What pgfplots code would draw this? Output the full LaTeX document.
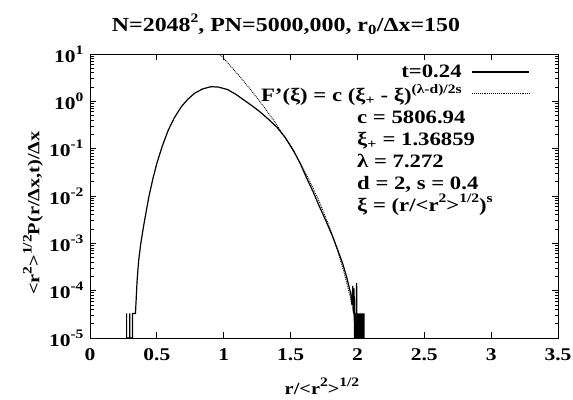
\documentclass[border=0pt]{standalone}
\usepackage{fontspec}
\setmainfont{Liberation Serif}[FakeStretch=1.2]
\usepackage{pgfplots}
\pgfplotsset{compat=1.18}
\newcommand{\sps}[1]{\raisebox{0.45em}{\fontsize{13}{13}\selectfont #1}}
\begin{document}
\begin{tikzpicture}
\begin{axis}[
 name=ax,
 scale only axis, width=468bp, height=284bp,
 xmin=0, xmax=3.5, ymin=1e-5, ymax=10,
 ymode=log,
 xtick={0,0.5,1,1.5,2,2.5,3,3.5},
 xticklabels={0,0.5,1,1.5,2,2.5,3,3.5},
 ytick={1e-5,1e-4,1e-3,1e-2,1e-1,1,10},
 yticklabels={10\sps{-5},10\sps{-4},10\sps{-3},10\sps{-2},10\sps{-1},10\sps{0},10\sps{1}},
 minor ytick={2e-5,3e-5,4e-5,5e-5,6e-5,7e-5,8e-5,9e-5,2e-4,3e-4,4e-4,5e-4,6e-4,7e-4,8e-4,9e-4,2e-3,3e-3,4e-3,5e-3,6e-3,7e-3,8e-3,9e-3,2e-2,3e-2,4e-2,5e-2,6e-2,7e-2,8e-2,9e-2,0.2,0.3,0.4,0.5,0.6,0.7,0.8,0.9,2,3,4,5,6,7,8,9},
 tick label style={font=\fontsize{18}{18}\selectfont\bfseries},
 xticklabel style={yshift=-7bp},
 yticklabel style={xshift=-3bp},
 tick align=inside,
 major tick length=6bp, minor tick length=3.5bp,
 axis line style={line width=1bp},
 every tick/.style={black, line width=0.8bp},
 title={\bfseries N=2048\sps{2}, PN=5000,000, r\textsubscript{0}/Δx=150},
 title style={font=\fontsize{20}{20}\selectfont, at={(rel axis cs:0.4188,1.085)}, anchor=center},
 xlabel={\bfseries r/<r\sps{2}>\sps{1/2}},
 xlabel style={font=\fontsize{17}{17}\selectfont, at={(rel axis cs:0.4957,-0.17)}, anchor=center},
 ylabel={\bfseries <r\sps{2}>\sps{1/2}P(r/Δx,t)/Δx},
 ylabel style={font=\fontsize{17}{17}\selectfont, at={(rel axis cs:-0.1218,0.44)}, anchor=center, rotate=0},
 legend style={draw=none, fill=none, at={(rel axis cs:0.9402,0.969)}, anchor=north east,
   font=\fontsize{19}{19}\selectfont\bfseries, inner sep=0pt, row sep=1bp,
   /tikz/every odd column/.append style={column sep=8bp}},
 legend cell align=right, legend plot pos=right,
 legend image code/.code={\draw[#1] (0bp,0bp) -- (57bp,0bp);},
]
\addplot[black, line width=1.2bp] coordinates {
(0.274,1e-5)(0.274,3.31e-5)(0.274,1e-5)
(0.298,1e-5)(0.298,3.31e-5)(0.298,1e-5)
(0.318,1e-5)(0.318,3.31e-5)(0.340,3.31e-5)(0.345,6.31e-5)(0.352,1.58e-4)
(0.364,4.37e-4)(0.380,1e-3)(0.400,2.24e-3)(0.420,4.68e-3)(0.440,9.55e-3)
(0.470,0.0229)(0.500,0.049)(0.540,0.112)(0.585,0.245)(0.630,0.447)
(0.684,0.776)(0.730,1.096)(0.782,1.479)(0.840,1.82)(0.905,2.04)
(0.960,2.00)(1.028,1.78)(1.090,1.41)(1.150,1.07)(1.210,0.813)
(1.270,0.603)(1.330,0.43)(1.397,0.285)(1.460,0.172)(1.520,0.0933)
(1.570,0.0501)(1.620,0.0240)(1.670,0.0120)(1.717,0.00589)(1.765,0.00295)
(1.815,0.00138)(1.850,7.59e-4)(1.890,3.72e-4)(1.920,1.91e-4)(1.950,8.71e-5)
(1.960,5.01e-5)(1.965,1.26e-4)(1.970,3.31e-5)(1.975,1.12e-4)(1.978,1e-5)
(1.982,3.31e-5)(1.986,1e-5)(1.990,3.31e-5)(1.994,1.45e-4)(1.997,1e-5)
(2.001,3.31e-5)(2.005,1e-5)(2.009,3.31e-5)(2.013,1e-5)(2.017,3.31e-5)
(2.021,1e-5)(2.025,3.31e-5)(2.029,1e-5)(2.033,3.31e-5)(2.037,1e-5)
(2.041,3.31e-5)(2.045,1e-5)(2.049,3.31e-5)(2.050,1e-5)
};
\addlegendentry{t=0.24}
\addplot[black, densely dotted, line width=0.9bp] coordinates {
(0.965,10.35)(0.98,9.31)(1.0,8.08)(1.05,5.63)(1.1,3.88)(1.15,2.64)(1.2,1.78)
(1.25,1.18)(1.3,0.769)(1.35,0.492)(1.4,0.308)(1.45,0.188)(1.5,0.112)
(1.55,0.0643)(1.6,0.0355)(1.65,0.0187)(1.7,0.00936)(1.75,0.00437)
(1.8,0.00188)(1.85,7.22e-4)(1.9,2.42e-4)(1.95,6.64e-5)(2.0,1.38e-5)(2.02,6.5e-6)
};
\addlegendentry{F'(ξ) = c (ξ\textsubscript{+} - ξ)\sps{(λ-d)/2s}}
\node[anchor=north west, align=left, inner sep=0pt, font=\fontsize{19}{22}\selectfont\bfseries]
 at (rel axis cs:0.5705,0.800)
 {c = 5806.94\\ ξ\textsubscript{+} = 1.36859\\ λ = 7.272\\ d = 2, s = 0.4\\ ξ = (r/<r\sps{2}>\sps{1/2})\sps{s}};
\end{axis}
\pgfresetboundingbox
\path (ax.south west) ++(-90bp,-62bp) rectangle ++(573bp,400bp);
\end{tikzpicture}
\end{document}
